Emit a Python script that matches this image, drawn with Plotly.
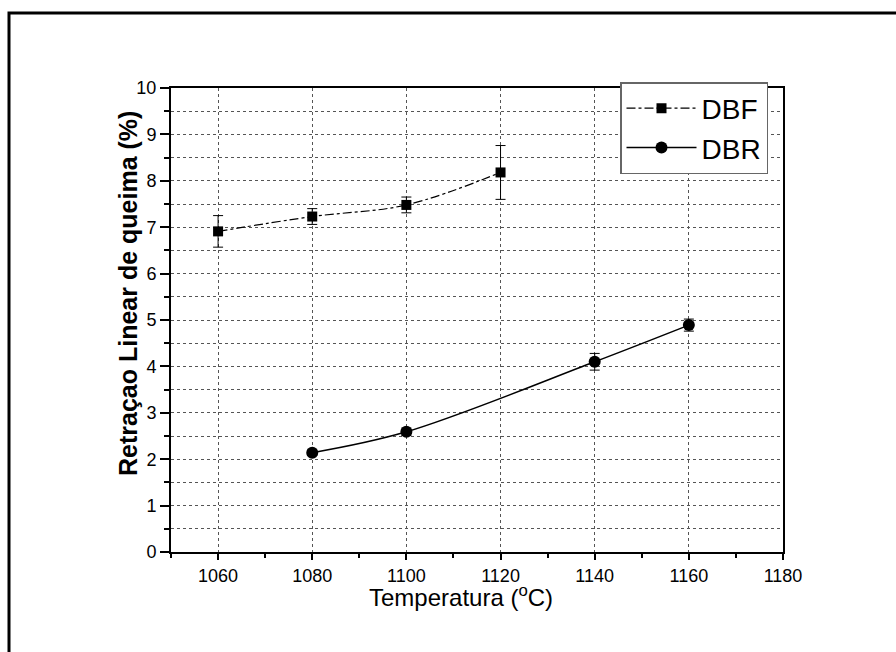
import plotly.graph_objects as go

# Data
dbf_temp = [1060, 1080, 1100, 1120]
dbf_val = [6.91, 7.23, 7.48, 8.18]
dbf_err = [0.34, 0.17, 0.17, 0.58]

dbr_temp = [1080, 1100, 1140, 1160]
dbr_val = [2.14, 2.59, 4.10, 4.89]
dbr_err = [0.06, 0.08, 0.18, 0.13]

x_ticks = [1060, 1080, 1100, 1120, 1140, 1160, 1180]
y_ticks = list(range(0, 11))

FONT = "Liberation Sans, Arial, sans-serif"

fig = go.Figure()
fig.add_trace(go.Scatter(
    x=dbf_temp, y=dbf_val, name="DBF", mode="lines+markers",
    line=dict(color="black", width=1.2, dash="dashdot", shape="spline"),
    marker=dict(symbol="square", size=10, color="black"),
    error_y=dict(type="data", array=dbf_err, color="black", thickness=1, width=5),
))
fig.add_trace(go.Scatter(
    x=dbr_temp, y=dbr_val, name="DBR", mode="lines+markers",
    line=dict(color="black", width=1.5, shape="spline"),
    marker=dict(symbol="circle", size=12, color="black"),
    error_y=dict(type="data", array=dbr_err, color="black", thickness=1, width=5),
))

L, R, T, B = 171, 113, 88, 100
W, H = 896, 652
pw, ph = W - L - R, H - T - B

def px(xp):
    return (xp - L) / pw

def py(yp):
    return (H - B - yp) / ph

fig.update_layout(
    width=W, height=H,
    margin=dict(l=L, r=R, t=T, b=B),
    paper_bgcolor="white", plot_bgcolor="white",
    font=dict(family=FONT, color="black"),
    showlegend=True,
    legend=dict(
        x=px(620), y=py(82), xanchor="left", yanchor="top",
        bgcolor="white", bordercolor="#666666", borderwidth=1.5,
        font=dict(size=28, family=FONT, color="black"),
        itemwidth=70, tracegroupgap=0,
    ),
    xaxis=dict(
        range=[1050, 1180], tickvals=x_ticks, ticktext=[str(v) for v in x_ticks],
        ticks="outside", ticklen=6, tickwidth=2, tickcolor="black",
        showline=True, linecolor="black", linewidth=2, mirror=True,
        showgrid=True, gridcolor="#555555", griddash="dot", gridwidth=1,
        zeroline=False,
        tickfont=dict(size=18, family=FONT),
        minor=dict(dtick=10, tick0=1050, ticks="outside", ticklen=4, tickwidth=2,
                   tickcolor="black", showgrid=False),
    ),
    yaxis=dict(
        range=[0, 10], tickvals=y_ticks, ticktext=[str(v) for v in y_ticks],
        ticks="outside", ticklen=9, tickwidth=2, tickcolor="black",
        showline=True, linecolor="black", linewidth=2, mirror=True,
        showgrid=True, gridcolor="#555555", griddash="dot", gridwidth=1,
        zeroline=False,
        tickfont=dict(size=18, family=FONT),
        minor=dict(dtick=0.5, tick0=0, ticks="outside", ticklen=5, tickwidth=2,
                   tickcolor="black", showgrid=True, gridcolor="#555555",
                   griddash="dot", gridwidth=1),
    ),
    annotations=[
        dict(text="Temperatura (<sup>o</sup>C)", xref="paper", yref="paper",
             x=px(461), y=py(596), xanchor="center", yanchor="middle",
             showarrow=False, font=dict(size=24, family=FONT, color="black")),
        dict(text="<b>Retraçao Linear de queima (%)</b>", xref="paper", yref="paper",
             x=px(128), y=py(294), xanchor="center", yanchor="middle", textangle=-90,
             showarrow=False, font=dict(size=25, family=FONT, color="black")),
    ],
    shapes=[dict(
        type="rect", xref="paper", yref="paper",
        x0=px(9), x1=px(W + 20), y0=py(H + 20), y1=py(13),
        line=dict(color="black", width=3), fillcolor="rgba(0,0,0,0)", layer="below",
    )],
)

fig.write_html("out.html")
